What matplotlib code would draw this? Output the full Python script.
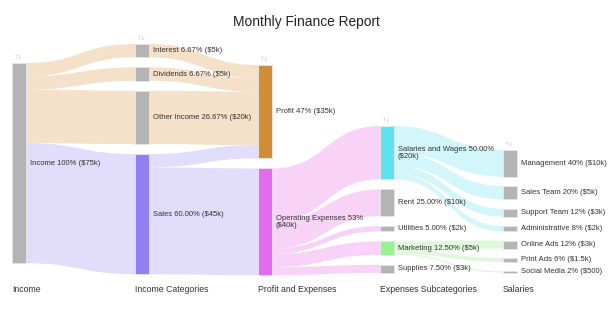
import matplotlib.pyplot as plt
from matplotlib.path import Path
from matplotlib.patches import PathPatch, Rectangle

plt.rcParams['font.family'] = ['Liberation Sans', 'DejaVu Sans']

# nodes of the sankey
nodes = ["Income", "Interest", "Dividends", "Other Income", "Sales",
         "Profit", "Operating Expenses",
         "Salaries and Wages", "Rent", "Utilities", "Marketing", "Supplies",
         "Management", "Sales Team", "Support Team", "Administrative",
         "Online Ads", "Print Ads", "Social Media"]
node_col = [0, 1, 1, 1, 1, 2, 2, 3, 3, 3, 3, 3, 4, 4, 4, 4, 4, 4, 4]
node_labels = ["Income 100% ($75k)", "Interest 6.67% ($5k)", "Dividends 6.67% ($5k)",
               "Other Income 26.67% ($20k)", "Sales 60.00% ($45k)",
               "Profit 47% ($35k)", "Operating Expenses 53%\n($40k)",
               "Salaries and Wages 50.00%\n($20k)", "Rent 25.00% ($10k)",
               "Utilities 5.00% ($2k)", "Marketing 12.50% ($5k)", "Supplies 7.50% ($3k)",
               "Management 40% ($10k)", "Sales Team 20% ($5k)", "Support Team 12% ($3k)",
               "Administrative 8% ($2k)", "Online Ads 12% ($3k)", "Print Ads 6% ($1.5k)",
               "Social Media 2% ($500)"]
node_colors = ["#b4b4b4", "#b4b4b4", "#b4b4b4", "#b4b4b4", "#8f7ff2",
               "#d38c36", "#e46aee",
               "#5fe2f0", "#b4b4b4", "#b4b4b4", "#98f294", "#b4b4b4",
               "#b4b4b4", "#b4b4b4", "#b4b4b4", "#b4b4b4", "#b4b4b4", "#b4b4b4", "#b4b4b4"]

# links (in $k)
sources = ["Income", "Income", "Income", "Income",
           "Interest", "Dividends", "Other Income", "Sales", "Sales",
           "Operating Expenses", "Operating Expenses", "Operating Expenses",
           "Operating Expenses", "Operating Expenses",
           "Salaries and Wages", "Salaries and Wages", "Salaries and Wages", "Salaries and Wages",
           "Marketing", "Marketing", "Marketing"]
targets = ["Interest", "Dividends", "Other Income", "Sales",
           "Profit", "Profit", "Profit", "Profit", "Operating Expenses",
           "Salaries and Wages", "Rent", "Utilities", "Marketing", "Supplies",
           "Management", "Sales Team", "Support Team", "Administrative",
           "Online Ads", "Print Ads", "Social Media"]
amounts = [5, 5, 20, 45,
           5, 5, 20, 5, 40,
           20, 10, 2, 5, 3,
           10, 5, 3, 2,
           3, 1.5, 0.5]
link_colors = ["#f4ddc4"] * 3 + ["#dedafb"] + ["#f4ddc4"] * 3 + ["#dedafb"] * 2 + \
              ["#f8cdf7"] * 5 + ["#cdf5f9"] * 4 + ["#dcf8d8"] * 3

column_names = ["Income", "Income Categories", "Profit and Expenses",
                "Expenses Subcategories", "Salaries"]

# layout (pixels)
col_x = [12, 135, 258, 380, 503]
col_top = [63, 44, 65, 126, 150]
col_gap = [0, 10, 10, 10, 9.3]
node_w = 14
scale = 2.67

fig = plt.figure(figsize=(6.13, 3.15), dpi=100)
ax = fig.add_axes([0, 0, 1, 1])
ax.set_xlim(0, 613)
ax.set_ylim(315, 0)
ax.axis('off')

idx = {n: i for i, n in enumerate(nodes)}
vin = [0.0] * len(nodes)
vout = [0.0] * len(nodes)
for s, t, a in zip(sources, targets, amounts):
    vout[idx[s]] += a
    vin[idx[t]] += a
val = [max(a, b) for a, b in zip(vin, vout)]

ny = [0.0] * len(nodes)
cursor = list(col_top)
for i, c in enumerate(node_col):
    ny[i] = cursor[c]
    cursor[c] += val[i] * scale + col_gap[c]

# links
out_off = list(ny)
in_off = list(ny)
for s, t, a, col in zip(sources, targets, amounts, link_colors):
    si, ti = idx[s], idx[t]
    h = a * scale
    x0 = col_x[node_col[si]] + node_w
    x1 = col_x[node_col[ti]]
    y0 = out_off[si]
    y1 = in_off[ti]
    out_off[si] += h
    in_off[ti] += h
    xm = (x0 + x1) / 2
    verts = [(x0, y0), (xm, y0), (xm, y1), (x1, y1),
             (x1, y1 + h), (xm, y1 + h), (xm, y0 + h), (x0, y0 + h), (x0, y0)]
    codes = [Path.MOVETO, Path.CURVE4, Path.CURVE4, Path.CURVE4,
             Path.LINETO, Path.CURVE4, Path.CURVE4, Path.CURVE4, Path.CLOSEPOLY]
    ax.add_patch(PathPatch(Path(verts, codes), facecolor=col, edgecolor='none',
                           alpha=0.9, zorder=1))

# nodes and labels
first_in_col = set()
for i, n in enumerate(nodes):
    c = node_col[i]
    x = col_x[c]
    h = val[i] * scale
    ax.add_patch(Rectangle((x, ny[i]), node_w, h, facecolor=node_colors[i],
                           edgecolor='#e6e6e6', linewidth=0.6, zorder=2))
    ax.text(x + node_w + 4, ny[i] + h / 2, node_labels[i], fontsize=5.5,
            color='#333333', va='center', ha='left', zorder=3, linespacing=0.95)
    if c not in first_in_col:
        first_in_col.add(c)
        ax.text(x + node_w / 2, ny[i] - 6, "↑↓", fontsize=4, color='#c4c4c4',
                ha='center', va='center', family=['DejaVu Sans'])

for x, name in zip(col_x, column_names):
    ax.text(x, 290, name, fontsize=6.3, color='#333333', ha='left', va='center')

ax.text(306, 22, "Monthly Finance Report", fontsize=9.9, color='#222222',
        ha='center', va='center')

fig.savefig('out.png', dpi=100)
